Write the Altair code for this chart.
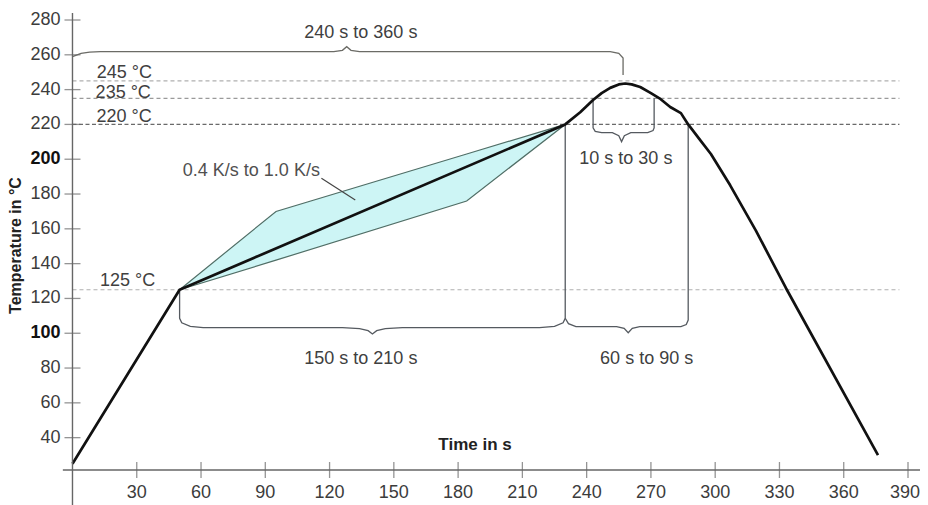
import altair as alt
import pandas as pd

FONT = "Liberation Sans"

# ---------------- data ----------------
x_ticks = [30, 60, 90, 120, 150, 180, 210, 240, 270, 300, 330, 360, 390]
y_ticks = [40, 60, 80, 100, 120, 140, 160, 180, 200, 220, 240, 260, 280]
y_bold = [100, 200]
axis_cross_T = 21.4

profile_time = [0, 50, 230, 237, 243, 247, 251, 255, 258, 261, 265, 270, 274, 279, 284, 287.4, 293, 298, 307, 319, 333, 376]
profile_temp = [25, 125, 220, 227, 234, 238, 241, 243, 243.5, 243, 241.5, 238, 235, 230, 226.5, 220, 211, 203, 185, 159, 126, 30]

band_time = [50, 95, 184, 230]
band_upper = [125, 170, 203, 220]
band_lower = [125, 142, 176, 220]

ref_levels = [245, 235, 220, 125]
ref_labels = ["245 °C", "235 °C", "220 °C", "125 °C"]
ref_label_time = [11.3, 10.8, 11.2, 12.8]
ref_label_temp = [249.5, 238.2, 224.2, 130.0]

brace_total_t = [0, 4, 8, 13, 122, 126, 128, 130, 134, 251, 255, 257, 257]
brace_total_T = [258.9, 260.8, 261.5, 261.8, 261.8, 262.6, 264.7, 262.6, 261.8, 261.8, 260.8, 258.2, 248.4]

brace_soak_t = [50, 50, 51, 55, 61, 126, 134, 138, 140, 142, 146, 154, 218, 225, 229, 230, 230]
brace_soak_T = [125, 108.6, 106, 104, 103.2, 103.2, 102.7, 101.5, 99.6, 101.5, 102.7, 103.2, 103.2, 104, 106, 108.6, 220]

brace_liq_t = [230, 231.5, 235, 254, 257.5, 259.4, 261.3, 264.8, 284, 286.5, 287.4, 287.4]
brace_liq_T = [108.6, 105.5, 103.8, 103.8, 102.8, 100.3, 102.8, 103.8, 103.8, 105, 107.6, 220]

brace_peak_t = [243, 243, 244, 247, 252, 255, 256.3, 257.6, 260.6, 268.5, 271, 271.5, 271.5]
brace_peak_T = [235, 218, 216, 215.3, 215.3, 213.5, 210.1, 213.5, 215.3, 215.3, 216.5, 218, 235]

leader_t = [116.2, 132]
leader_T = [189, 176.6]

annot_text = ["240 s to 360 s", "150 s to 210 s", "60 s to 90 s", "10 s to 30 s"]
annot_t = [134.6, 134.6, 268, 258.3]
annot_T = [272.3, 85.0, 85.0, 200.1]

rate_text = "0.4 K/s to 1.0 K/s"
rate_t = 51.5
rate_T = 193.0

# ---------------- scales ----------------
XS = alt.Scale(domain=[-30.1, 395.6], nice=False, zero=False)
YS = alt.Scale(domain=[1.3, 286.9], nice=False, zero=False)


def xy(ch, xf="t", yf="T"):
    return ch.encode(
        x=alt.X(f"{xf}:Q", scale=XS, axis=None),
        y=alt.Y(f"{yf}:Q", scale=YS, axis=None),
    )


def seq_df(ts, Ts):
    return pd.DataFrame({"t": ts, "T": Ts, "i": list(range(len(ts)))})


layers = []

# soak band
band_df = pd.DataFrame({"t": band_time, "T": band_upper, "T2": band_lower})
layers.append(
    alt.Chart(band_df).mark_area(fill="#cdf5f5", stroke="#506e66", strokeWidth=1.2).encode(
        x=alt.X("t:Q", scale=XS, axis=None),
        y=alt.Y("T:Q", scale=YS, axis=None),
        y2="T2:Q",
    )
)

# dashed reference lines
ref_styles = {245: ("#b0b0b0", [4, 3]), 235: ("#9a9a9a", [4, 3]), 220: ("#6a6a6a", [4, 2.5]), 125: ("#b0b0b0", [4, 3])}
for lv in ref_levels:
    col, dash = ref_styles[lv]
    d = pd.DataFrame({"t": [0], "t2": [386], "T": [lv]})
    layers.append(
        alt.Chart(d).mark_rule(color=col, strokeDash=dash, strokeWidth=1.2).encode(
            x=alt.X("t:Q", scale=XS, axis=None), x2="t2:Q",
            y=alt.Y("T:Q", scale=YS, axis=None),
        )
    )

# braces
for bt, bT, col in [
    (brace_total_t, brace_total_T, "#6b6b66"),
    (brace_soak_t, brace_soak_T, "#555a60"),
    (brace_liq_t, brace_liq_T, "#555a60"),
    (brace_peak_t, brace_peak_T, "#555a60"),
]:
    layers.append(
        xy(alt.Chart(seq_df(bt, bT)).mark_line(color=col, strokeWidth=1.3)).encode(order="i:Q")
    )

# leader line
layers.append(xy(alt.Chart(seq_df(leader_t, leader_T)).mark_line(color="#444444", strokeWidth=1.2)).encode(order="i:Q"))

# profile curve
layers.append(
    xy(alt.Chart(seq_df(profile_time, profile_temp)).mark_line(color="#111111", strokeWidth=2.7, strokeJoin="round")).encode(order="i:Q")
)

# axes lines
xaxis_df = pd.DataFrame({"t": [-4.5], "t2": [400], "T": [axis_cross_T]})
layers.append(
    alt.Chart(xaxis_df).mark_rule(color="#666666", strokeWidth=1.4).encode(
        x=alt.X("t:Q", scale=XS, axis=None), x2="t2:Q", y=alt.Y("T:Q", scale=YS, axis=None)
    )
)
yaxis_df = pd.DataFrame({"t": [0], "T": [-10], "T2": [284]})
layers.append(
    alt.Chart(yaxis_df).mark_rule(color="#666666", strokeWidth=1.4).encode(
        x=alt.X("t:Q", scale=XS, axis=None), y=alt.Y("T:Q", scale=YS, axis=None), y2="T2:Q"
    )
)

# ticks
xt_df = pd.DataFrame({"t": x_ticks, "T": [axis_cross_T] * len(x_ticks)})
yt_df = pd.DataFrame({"t": [0] * len(y_ticks), "T": y_ticks})
layers.append(xy(alt.Chart(xt_df).mark_tick(orient="vertical", size=16, thickness=1.3, color="#666666")))
layers.append(xy(alt.Chart(yt_df).mark_tick(orient="horizontal", size=16, thickness=1.3, color="#666666")))

# tick labels
xt_df["lab"] = [str(v) for v in x_ticks]
yt_df["lab"] = [str(v) for v in y_ticks]
last_x = x_ticks[-1]
layers.append(
    xy(alt.Chart(xt_df).transform_filter(f"datum.t != {last_x}").mark_text(font=FONT, fontSize=18, color="#3c3c3c", baseline="middle", align="center", dy=23)).encode(text="lab:N")
)
layers.append(
    xy(alt.Chart(xt_df).transform_filter(f"datum.t == {last_x}").mark_text(font=FONT, fontSize=18, color="#3c3c3c", baseline="middle", align="right", dx=12, dy=23)).encode(text="lab:N")
)
bold_test = " || ".join(f"datum.T == {v}" for v in y_bold)
layers.append(
    xy(alt.Chart(yt_df).transform_filter(f"!({bold_test})").mark_text(font=FONT, fontSize=18, color="#3c3c3c", baseline="middle", align="right", dx=-12)).encode(text="lab:N")
)
layers.append(
    xy(alt.Chart(yt_df).transform_filter(bold_test).mark_text(font=FONT, fontSize=18, fontWeight="bold", color="#111111", baseline="middle", align="right", dx=-12)).encode(text="lab:N")
)

# reference labels
ref_df = pd.DataFrame({"t": ref_label_time, "T": ref_label_temp, "lab": ref_labels})
layers.append(
    xy(alt.Chart(ref_df).mark_text(font=FONT, fontSize=18, color="#404040", baseline="middle", align="left")).encode(text="lab:N")
)

# brace labels
ann_df = pd.DataFrame({"t": annot_t, "T": annot_T, "lab": annot_text})
layers.append(
    xy(alt.Chart(ann_df).mark_text(font=FONT, fontSize=18, color="#404040", baseline="middle", align="center")).encode(text="lab:N")
)
rate_df = pd.DataFrame({"t": [rate_t], "T": [rate_T], "lab": [rate_text]})
layers.append(
    xy(alt.Chart(rate_df).mark_text(font=FONT, fontSize=18, color="#505050", baseline="middle", align="left")).encode(text="lab:N")
)

# axis titles
xt_title = pd.DataFrame({"t": [187.9], "T": [35.8], "lab": ["Time in s"]})
layers.append(
    xy(alt.Chart(xt_title).mark_text(font=FONT, fontSize=17, fontWeight="bold", color="#222222", baseline="middle", align="center")).encode(text="lab:N")
)
yt_title = pd.DataFrame({"lab": ["Temperature in °C"]})
layers.append(
    alt.Chart(yt_title).mark_text(font=FONT, fontSize=16, fontWeight="bold", color="#222222", baseline="middle", align="center", angle=270).encode(
        x=alt.value(8), y=alt.value(237.5), text="lab:N"
    )
)

chart = alt.layer(*layers).properties(
    width=912, height=497, padding=0, background="white",
    autosize=alt.AutoSizeParams(type="none"),
).configure_view(stroke=None)

chart.save("out.html", embed_options={"renderer": "svg", "actions": False})
